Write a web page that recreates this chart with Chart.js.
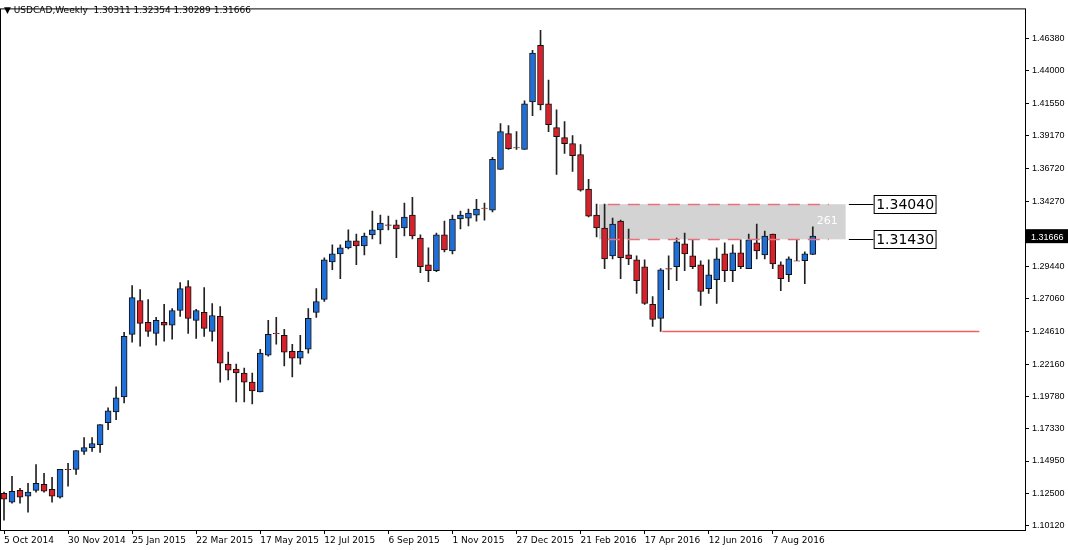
<!DOCTYPE html>
<html><head><meta charset="utf-8">
<script src="https://cdn.jsdelivr.net/npm/chart.js@4/dist/chart.umd.min.js"></script>
<style>html,body{margin:0;padding:0;background:#fff}#w{width:1068px;height:550px}</style>
</head><body><div id="w"><canvas id="c"></canvas></div>
<script>
const startDates = ['5 Oct 2014','30 Nov 2014','25 Jan 2015','22 Mar 2015','17 May 2015','12 Jul 2015','6 Sep 2015','1 Nov 2015','27 Dec 2015','21 Feb 2016','17 Apr 2016','12 Jun 2016','7 Aug 2016'];
const opens  = [1.1255,1.1189,1.1277,1.1233,1.1277,1.1322,1.1285,1.1226,1.1433,1.1433,1.1566,1.1595,1.1617,1.1780,1.1860,1.1972,1.2437,1.2688,1.2526,1.2444,1.2526,1.2504,1.2614,1.2792,1.2541,1.2600,1.2459,1.2570,1.2215,1.2178,1.2149,1.2082,1.2009,1.2282,1.2444,1.2430,1.2311,1.2260,1.2326,1.2600,1.2696,1.2976,1.3035,1.3080,1.3131,1.3094,1.3176,1.3213,1.3250,1.3250,1.3227,1.3323,1.3153,1.2954,1.2910,1.3176,1.3057,1.3294,1.3301,1.3323,1.3375,1.3360,1.3663,1.3929,1.3826,1.3811,1.4165,1.4586,1.4151,1.3973,1.3899,1.3855,1.3774,1.3516,1.3323,1.3227,1.3020,1.3279,1.3028,1.2991,1.2939,1.2659,1.2555,1.2925,1.2939,1.3109,1.3020,1.2954,1.2777,1.2843,1.3035,1.2910,1.3043,1.2925,1.3117,1.3028,1.3183,1.2954,1.2880,1.2984,1.2984,1.30311];
const highs  = [1.1263,1.1381,1.1292,1.1329,1.1469,1.1403,1.1374,1.1433,1.1477,1.1573,1.1669,1.1669,1.1765,1.1890,1.2046,1.2452,1.2799,1.2769,1.2696,1.2563,1.2659,1.2629,1.2821,1.2836,1.2622,1.2784,1.2666,1.2644,1.2304,1.2215,1.2186,1.2149,1.2326,1.2541,1.2563,1.2474,1.2363,1.2430,1.2629,1.2777,1.3006,1.3102,1.3102,1.3213,1.3183,1.3190,1.3353,1.3323,1.3316,1.3286,1.3412,1.3456,1.3176,1.3080,1.3190,1.3279,1.3323,1.3353,1.3368,1.3441,1.3412,1.3752,1.4003,1.3988,1.3944,1.4173,1.4549,1.4697,1.4328,1.4106,1.4018,1.3914,1.3848,1.3589,1.3405,1.3405,1.3301,1.3286,1.3220,1.3020,1.2991,1.2718,1.2925,1.3020,1.3153,1.3190,1.3139,1.2984,1.2991,1.3080,1.3117,1.3102,1.3139,1.3183,1.3257,1.3205,1.3183,1.2976,1.3013,1.3139,1.3050,1.32354];
const lows   = [1.1056,1.1182,1.1182,1.1115,1.1263,1.1263,1.1189,1.1218,1.1307,1.1396,1.1543,1.1566,1.1558,1.1728,1.1802,1.1927,1.2378,1.2348,1.2422,1.2356,1.2385,1.2400,1.2570,1.2444,1.2407,1.2422,1.2385,1.2082,1.2097,1.1935,1.1935,1.1920,1.2009,1.2275,1.2363,1.2201,1.2120,1.2215,1.2297,1.2563,1.2681,1.2917,1.2851,1.3072,1.2954,1.3028,1.3146,1.3109,1.3213,1.3006,1.3168,1.3146,1.2895,1.2828,1.2902,1.3050,1.3035,1.3220,1.3242,1.3279,1.3286,1.3346,1.3663,1.3811,1.3811,1.3811,1.4062,1.4106,1.3944,1.3626,1.3781,1.3648,1.3501,1.3309,1.3161,1.2925,1.2998,1.2851,1.2954,1.2740,1.2659,1.2496,1.2459,1.2769,1.2836,1.2910,1.2925,1.2651,1.2740,1.2666,1.2828,1.2828,1.2925,1.2925,1.2998,1.2998,1.2925,1.2761,1.2828,1.2984,1.2814,1.30289];
const closes = [1.1211,1.1270,1.1226,1.1263,1.1329,1.1270,1.1233,1.1433,1.1430,1.1573,1.1595,1.1625,1.1765,1.1868,1.1964,1.2422,1.2710,1.2518,1.2459,1.2541,1.2504,1.2614,1.2777,1.2555,1.2614,1.2481,1.2577,1.2223,1.2171,1.2149,1.2082,1.2016,1.2297,1.2437,1.2441,1.2304,1.2260,1.2311,1.2555,1.2681,1.2991,1.3035,1.3080,1.3131,1.3094,1.3168,1.3213,1.3264,1.3246,1.3220,1.3309,1.3168,1.2939,1.2910,1.3176,1.3065,1.3294,1.3323,1.3338,1.3368,1.3372,1.3737,1.3944,1.3818,1.3822,1.4151,1.4527,1.4143,1.3995,1.3907,1.3855,1.3766,1.3508,1.3316,1.3227,1.2998,1.3257,1.3006,1.2998,1.2836,1.2666,1.2548,1.2917,1.2921,1.3124,1.3035,1.2939,1.2755,1.2880,1.2998,1.2910,1.3043,1.2939,1.3139,1.3057,1.3168,1.2961,1.2851,1.2998,1.2980,1.3035,1.31666];
const yTicks = [1.46380,1.44000,1.41550,1.39170,1.36720,1.34270,1.29440,1.27060,1.24610,1.22160,1.19780,1.17330,1.14950,1.12500,1.10120];
const zoneTop = 1.34040, zoneBottom = 1.31430, supportLevel = 1.24610, lastPrice = 1.31666;
const headerText = '\u25BC USDCAD,Weekly  1.30311 1.32354 1.30289 1.31666';

const SLOTS = 128;
const labels = [];
for (let i = 0; i < SLOTS; i++) labels.push(i % 8 === 0 && startDates[i/8] ? startDates[i/8] : '');
const bodies = opens.map((o,i)=>[o, Math.abs(closes[i]-o) < 0.00005 ? o + (closes[i]>=o?0.0001:-0.0001) : closes[i]]);
const wicks = highs.map((h,i)=>[lows[i], h]);
const bodyColors = opens.map((o,i)=> closes[i] > o ? '#1f6fd6' : '#d7222c');

const overlay = {
  id:'overlay',
  beforeDatasetsDraw(ch){
    const {ctx, scales:{x,y}} = ch;
    const X = v => x.getPixelForValue(v);
    ctx.save();
    ctx.fillStyle = '#d3d3d3';
    ctx.fillRect(X(74.3), y.getPixelForValue(zoneTop), X(105.1)-X(74.3), y.getPixelForValue(zoneBottom)-y.getPixelForValue(zoneTop));
    ctx.restore();
  },
  afterDatasetsDraw(ch){
    const {ctx, scales:{x,y}, chartArea:a} = ch;
    const X = v => x.getPixelForValue(v);
    ctx.save();
    ctx.strokeStyle = '#e8707f'; ctx.lineWidth = 1.5; ctx.setLineDash([12,8]);
    [zoneTop, zoneBottom].forEach(v=>{ const py=Math.round(y.getPixelForValue(v))+0.5; ctx.beginPath(); ctx.moveTo(X(75.4),py); ctx.lineTo(X(103),py); ctx.stroke(); });
    ctx.setLineDash([]);
    ctx.strokeStyle = '#f06060'; ctx.lineWidth = 1.5;
    let py = Math.round(y.getPixelForValue(supportLevel))+0.5;
    ctx.beginPath(); ctx.moveTo(X(82.2),py); ctx.lineTo(X(121.8),py); ctx.stroke();
    ctx.fillStyle = '#fff'; ctx.font = '11px "DejaVu Sans"'; ctx.textBaseline='middle'; ctx.textAlign='left';
    ctx.fillText('261', X(101.5), y.getPixelForValue((zoneTop+zoneBottom)/2)-1);
    ctx.font = '14px "DejaVu Sans"';
    [[zoneTop,'1.34040'],[zoneBottom,'1.31430']].forEach(([v,t])=>{
      const yy = Math.round(y.getPixelForValue(v))+0.5, x0 = X(105.5), x1 = X(108.6);
      ctx.strokeStyle='#000'; ctx.lineWidth=1;
      ctx.beginPath(); ctx.moveTo(x0,yy); ctx.lineTo(x1,yy); ctx.stroke();
      const w = ctx.measureText(t).width + 4;
      ctx.fillStyle='#fff'; ctx.fillRect(x1, yy-9, w, 18);
      ctx.strokeRect(x1+0.5, yy-9, w, 18);
      ctx.fillStyle='#000'; ctx.fillText(t, x1+2.5, yy+1);
    });
    ctx.strokeStyle='#000'; ctx.lineWidth=1;
    ctx.strokeRect(a.left+0.5, a.top+0.5, a.right-a.left, a.bottom-a.top);
    ctx.fillStyle='#000'; ctx.font='9px "DejaVu Sans"'; ctx.textAlign='left';
    ctx.fillText(headerText, a.left+4, 11);
    const ly = y.getPixelForValue(lastPrice);
    ctx.fillStyle='#000'; ctx.fillRect(a.right+1, ly-7, 42, 14);
    ctx.fillStyle='#fff'; ctx.font='9px "Liberation Sans"';
    ctx.fillText(lastPrice.toFixed(5), a.right+6, ly+1);
    ctx.restore();
  }
};

new Chart(document.getElementById('c'), {
  type:'bar',
  data:{ labels, datasets:[
    { data: wicks, backgroundColor:'#222', barThickness:1, grouped:false, order:2 },
    { data: bodies, backgroundColor: bodyColors, borderColor:'#111', borderWidth:1, borderSkipped:false, barThickness:6, grouped:false, order:1 }
  ]},
  options:{
    responsive:true, maintainAspectRatio:false, animation:false,
    layout:{ padding:{left:0, top:2, right:0, bottom:0} },
    plugins:{ legend:{display:false}, tooltip:{enabled:false} },
    scales:{
      x:{ offset:true,
        grid:{ offset:false, drawOnChartArea:false, drawTicks:true, tickLength:4, color:(c)=> labels[c.index] ? '#000' : 'rgba(0,0,0,0)' },
        border:{display:false},
        ticks:{ autoSkip:false, maxRotation:0, align:'start', padding:1, color:'#000', font:{family:'DejaVu Sans', size:9},
          callback:(v,i)=>labels[i] },
        afterFit(s){ s.height = 20; }
      },
      y:{ position:'right', min:1.0982, max:1.4860,
        afterBuildTicks(s){ s.ticks = yTicks.map(v=>({value:v})); },
        grid:{ drawOnChartArea:false, tickLength:4, color:'#000' },
        border:{display:false},
        ticks:{ color:'#000', padding:3, font:{family:'Liberation Sans', size:9}, callback:v=>v.toFixed(5) },
        afterFit(s){ s.width = 43; }
      }
    }
  },
  plugins:[overlay]
});
</script></body></html>
